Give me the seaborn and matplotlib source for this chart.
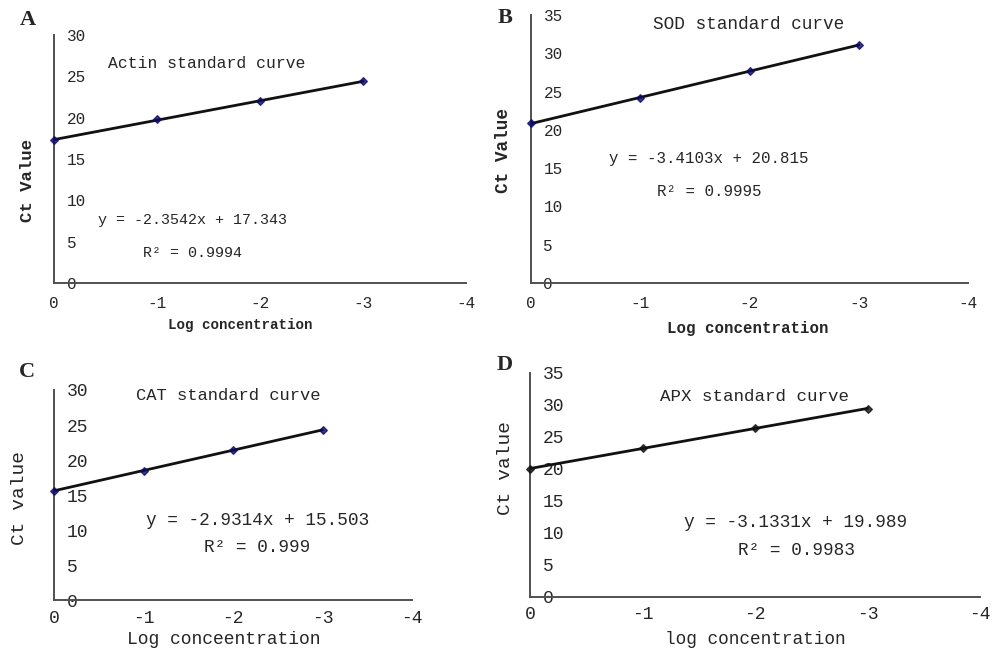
import matplotlib
matplotlib.use('Agg')
import matplotlib.pyplot as plt
import pandas as pd
import seaborn as sns

# data
log_conc = [0, -1, -2, -3]
actin_ct = [17.3, 19.8, 22.0, 24.4]
sod_ct = [20.9, 24.1, 27.7, 31.1]
cat_ct = [15.6, 18.5, 21.4, 24.3]
apx_ct = [20.0, 23.2, 26.3, 29.4]

x_ticks = [0, -1, -2, -3, -4]
x_tick_labels = ['0', '-1', '-2', '-3', '-4']
y_max = [30, 35, 30, 35]

letters = ['A', 'B', 'C', 'D']
titles = ['Actin standard curve', 'SOD standard curve', 'CAT standard curve', 'APX standard curve']
equations = ['y = -2.3542x + 17.343', 'y = -3.4103x + 20.815',
             'y = -2.9314x + 15.503', 'y = -3.1331x + 19.989']
r_squared = ['R\u00b2 = 0.9994', 'R\u00b2 = 0.9995', 'R\u00b2 = 0.999', 'R\u00b2 = 0.9983']
y_labels = ['Ct Value', 'Ct Value', 'Ct value', 'Ct value']
x_labels = ['Log concentration', 'Log concentration', 'Log conceentration', 'log concentration']
ct_values = [actin_ct, sod_ct, cat_ct, apx_ct]

sns.set_style('white')
plt.rcParams['font.family'] = ['Liberation Mono', 'DejaVu Sans Mono']

# layout per panel: axes rect, text positions (axes coords), letter pos (fig px)
rects = [[0.054, 0.5646, 0.412, 0.3815],
         [0.531, 0.5646, 0.437, 0.4123],
         [0.054, 0.0769, 0.358, 0.3231],
         [0.530, 0.0820, 0.450, 0.3446]]
title_pos = [(0.371, 0.887), (0.499, 0.963), (0.486, 0.976), (0.499, 0.896)]
eq_pos = [(0.336, 0.254), (0.406, 0.463), (0.568, 0.378), (0.591, 0.330)]
r2_pos = [(0.336, 0.121), (0.407, 0.340), (0.568, 0.248), (0.591, 0.205)]
ylab_pos = [(-0.0655, 0.415), (-0.062, 0.496), (-0.095, 0.486), (-0.055, 0.575)]
xlab_pos = [(0.452, -0.170), (0.496, -0.168), (0.475, -0.190), (0.500, -0.193)]
letter_pos = [(28, 20), (505, 18), (27, 372), (505, 365)]
marker_col = ['#0b0b66', '#0b0b66', '#0b0b66', '#111111']
bold_labels = [True, True, False, False]
tick_size = [11.5, 11.5, 13, 13]
tick_pad = [9, 9, 7, 7]
title_size = [11.8, 12.8, 12.3, 12.6]
eq_size = [10.8, 11.3, 12.8, 12.8]
xlab_size = [10.2, 11.3, 13, 12.8]
ylab_size = [12.5, 12.8, 14, 14]

fig = plt.figure(figsize=(10, 6.5), dpi=100)

for i in range(4):
    ax = fig.add_axes(rects[i])
    df = pd.DataFrame({'log_conc': log_conc, 'ct': ct_values[i]})
    sns.regplot(data=df, x='log_conc', y='ct', ci=None, ax=ax, marker='D',
                scatter_kws={'s': 15, 'color': marker_col[i], 'zorder': 4, 'clip_on': False},
                line_kws={'color': '#111111', 'lw': 2.0, 'zorder': 3})

    ax.set_xlim(0, -4)
    ax.set_ylim(0, y_max[i])
    sns.despine(ax=ax)
    for s in ['left', 'bottom']:
        ax.spines[s].set_color('#505050')
        ax.spines[s].set_linewidth(1.4)

    ax.set_xticks(x_ticks)
    ax.set_xticklabels(x_tick_labels, fontsize=tick_size[i])
    yt = list(range(0, y_max[i] + 1, 5))
    ax.set_yticks(yt)
    ax.set_yticklabels([str(v) for v in yt], fontsize=tick_size[i], ha='left')
    ax.tick_params(axis='x', direction='in', length=4, width=1.2, color='#505050', pad=tick_pad[i])
    ax.tick_params(axis='y', direction='out', length=5, width=1.2, color='#505050', pad=-14)

    weight = 'bold' if bold_labels[i] else 'normal'
    ax.set_xlabel(x_labels[i], fontsize=xlab_size[i], fontweight=weight, va='center')
    ax.xaxis.set_label_coords(*xlab_pos[i])
    ax.set_ylabel(y_labels[i], fontsize=ylab_size[i], fontweight=weight, va='center')
    ax.yaxis.set_label_coords(*ylab_pos[i])

    ax.text(*title_pos[i], titles[i], transform=ax.transAxes, ha='center', va='center',
            fontsize=title_size[i])
    ax.text(*eq_pos[i], equations[i], transform=ax.transAxes, ha='center', va='center',
            fontsize=eq_size[i])
    ax.text(*r2_pos[i], r_squared[i], transform=ax.transAxes, ha='center', va='center',
            fontsize=eq_size[i])

    fig.text(letter_pos[i][0] / 1000, 1 - letter_pos[i][1] / 650, letters[i],
             ha='center', va='center', fontsize=16, fontweight='bold',
             family=['Liberation Serif', 'DejaVu Serif'])

fig.savefig('out.png', dpi=100)
